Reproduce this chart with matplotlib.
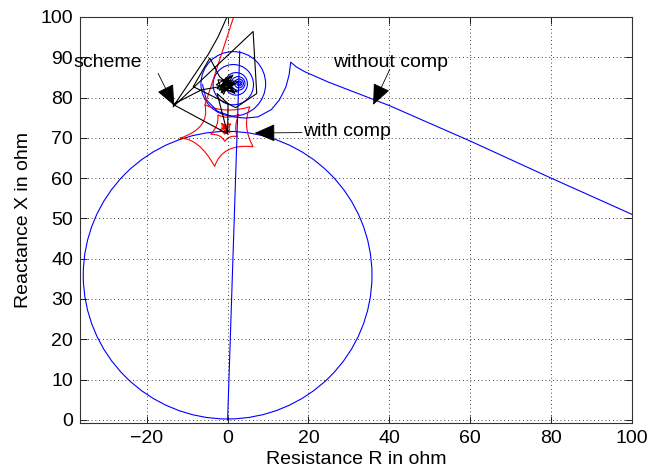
import matplotlib
matplotlib.use("Agg")
import matplotlib.pyplot as plt
from matplotlib.patches import Circle, PathPatch
from matplotlib.path import Path

# ---------------- data ----------------
# mho characteristic circle
mho_center = (0.0, 35.9)
mho_radius = 35.7

# blue trajectory "without comp"
blue_line_R = [0.0, 3.0]
blue_line_X = [0.0, 91.5]
blue_tail_R = [100.0, 80.0, 60.0, 40.0, 25.0, 19.1, 17.0, 15.6, 15.2, 14.4, 12.8, 10.8, 7.5, 4.3, 1.4, -2.5, -5.3, -6.2]
blue_tail_X = [51.0, 60.0, 69.2, 78.0, 83.8, 86.4, 87.6, 88.8, 85.6, 82.6, 79.4, 77.0, 75.2, 74.9, 75.2, 76.6, 79.5, 83.2]
blue_loop_cR = [1.4, 1.4, 2.1, 2.6, 2.8, 2.9, 2.9]
blue_loop_cX = [83.4, 83.2, 83.4, 83.5, 83.5, 83.5, 83.5]
blue_loop_r = [8.0, 5.0, 2.8, 1.7, 1.1, 0.6, 0.3]

# red trajectory "with comp"
red_in_R = [1.8, -5.6]
red_in_X = [101.0, 78.2]
red_star_vR = [[-5.6, 5.5, 6.3, -3.2, -11.8],
               [-2.4, 2.8, 2.4, -0.7, -4.2],
               [-1.5, 0.7, 0.6, -0.8, -1.9],
               [-1.0, 0.0, -0.1, -0.7, -1.3],
               [-0.8, -0.4, -0.4, -0.7, -0.9]]
red_star_vX = [[78.2, 77.7, 67.8, 62.9, 69.9],
               [75.7, 75.9, 70.3, 69.1, 70.9],
               [73.6, 73.5, 71.3, 70.9, 71.8],
               [73.1, 73.0, 71.9, 71.7, 72.2],
               [72.8, 72.7, 72.2, 72.1, 72.4]]
red_star_cR = [[-0.55, 3.5, -1.35, -7.1, -4.3],
               [0.0, 1.4, 0.35, -1.6, -2.1],
               [-0.4, 0.1, -0.1, -1.0, -1.0],
               [-0.5, -0.4, -0.4, -0.8, -0.8],
               [-0.6, -0.55, -0.55, -0.75, -0.75]]
red_star_cX = [[75.85, 72.85, 68.65, 70.0, 72.35],
               [74.4, 72.8, 70.8, 71.0, 72.9],
               [72.8, 72.3, 71.7, 71.7, 72.5],
               [72.6, 72.4, 72.1, 72.1, 72.5],
               [72.6, 72.4, 72.3, 72.3, 72.5]]

# black trajectory "scheme"
black_R = [0.3, -2.4, -4.8, -13.5, 6.3, 7.2, 2.0, -8.5, -4.4, -2.0,
           2.4, -2.6, 1.3, -1.0, -2.4, 2.6, -1.6, 0.8, -2.8, 1.8, -0.4, -2.0,
           2.0, -1.2, 1.0, -0.2, -1.6, 1.5, -0.8, 0.6, -1.2, 1.1, -0.3, 0.4,
           -6.5, -13.5, 0.0, -2.6, 0.1, 0.0]
black_X = [101.0, 95.0, 90.7, 77.7, 96.4, 81.0, 77.5, 82.7, 89.8, 85.2,
           81.4, 82.2, 85.6, 80.8, 84.4, 84.0, 81.2, 85.4, 83.2, 81.0, 85.0, 81.8,
           83.4, 84.2, 81.8, 84.6, 82.6, 83.8, 81.6, 82.4, 83.6, 82.4, 83.9, 83.1,
           81.9, 78.3, 71.0, 81.0, 78.5, 71.0]

# annotations: text, text position, arrow tail, arrow head
ann_text = ["without comp", "with comp", "scheme"]
ann_text_R = [26.1, 18.7, -38.2]
ann_text_X = [88.8, 71.6, 88.8]
ann_tail_R = [40.1, 18.4, -17.2]
ann_tail_X = [87.0, 71.3, 86.0]
ann_head_R = [36.0, 6.7, -13.2]
ann_head_X = [78.2, 71.2, 78.0]

x_ticks = [-20, 0, 20, 40, 60, 80, 100]
y_ticks = [0, 10, 20, 30, 40, 50, 60, 70, 80, 90, 100]

# ---------------- drawing ----------------
plt.rcParams['font.family'] = ['Liberation Sans', 'DejaVu Sans']
fig = plt.figure(figsize=(6.48, 4.72), dpi=100)
ax = fig.add_axes([0.1235, 0.1038, 0.8518, 0.8602])

lw = 0.8
ax.add_patch(Circle(mho_center, mho_radius, fill=False, edgecolor='b', lw=lw))
ax.plot(blue_line_R, blue_line_X, color='b', lw=lw)
ax.plot(blue_tail_R, blue_tail_X, color='b', lw=lw)
for cr, cx, r in zip(blue_loop_cR, blue_loop_cX, blue_loop_r):
    ax.add_patch(Circle((cr, cx), r, fill=False, edgecolor='b', lw=lw))

ax.plot(red_in_R, red_in_X, color='r', lw=lw)
for vR, vX, cR, cX in zip(red_star_vR, red_star_vX, red_star_cR, red_star_cX):
    verts = [(vR[0], vX[0])]
    codes = [Path.MOVETO]
    n = len(vR)
    for i in range(n):
        j = (i + 1) % n
        verts += [(cR[i], cX[i]), (vR[j], vX[j])]
        codes += [Path.CURVE3, Path.CURVE3]
    ax.add_patch(PathPatch(Path(verts, codes), fill=False, edgecolor='r', lw=lw))

ax.plot(black_R, black_X, color='k', lw=lw)

for t, tr, tx, ar, axx, hr, hx in zip(ann_text, ann_text_R, ann_text_X,
                                      ann_tail_R, ann_tail_X, ann_head_R, ann_head_X):
    ax.text(tr, tx, t, fontsize=14, ha='left', va='center', clip_on=False)
    ax.annotate('', xy=(hr, hx), xytext=(ar, axx),
                arrowprops=dict(arrowstyle='-|>,head_length=0.65,head_width=0.28',
                                mutation_scale=20, color='k', lw=0.6,
                                shrinkA=0, shrinkB=0))

ax.set_xlim(-36.5, 100)
ax.set_ylim(-0.8, 100)
ax.set_xticks(x_ticks)
ax.set_yticks(y_ticks)
ax.tick_params(direction='in', top=True, right=True, labelsize=14, length=5,
               width=0.6, pad=5)
ax.grid(True, color='k', linestyle=(0, (1, 3.5)), lw=0.6)
for s in ax.spines.values():
    s.set_linewidth(0.8)
    s.set_color('#333333')
ax.set_xlabel('Resistance R in ohm', fontsize=14, labelpad=3)
ax.set_ylabel('Reactance X in ohm', fontsize=14, labelpad=6)

fig.savefig('out.png', dpi=100)
